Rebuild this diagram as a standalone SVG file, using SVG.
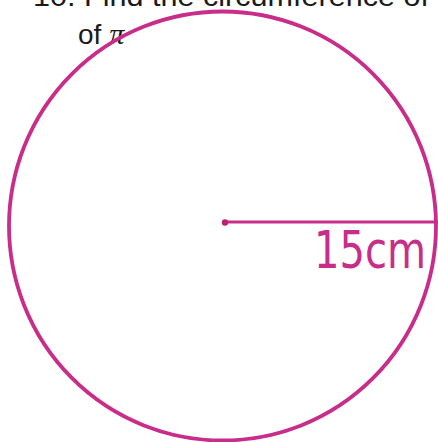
<svg xmlns="http://www.w3.org/2000/svg" width="438" height="442" viewBox="0 0 438 442">
<style>
.ink{fill:none;stroke:#c92d8a;stroke-linecap:round}
.q{font-family:"Liberation Sans","DejaVu Sans",sans-serif;font-size:28px;fill:#1a1a1a}
.hand{font-family:"DejaVu Sans","Liberation Sans",sans-serif;font-size:52px;fill:#c92d8a}
</style>
<rect width="438" height="442" fill="#ffffff"/>
<g id="question">
<text class="q" x="33" y="6" textLength="430" lengthAdjust="spacingAndGlyphs">10. Find the circumference of th</text>
<text class="q" x="78" y="44">of <tspan font-family="Liberation Serif,serif" font-style="italic" font-size="30">π</tspan></text>
</g>
<g id="circle">
<ellipse class="ink" cx="222.5" cy="226" rx="213.5" ry="214.5" stroke-width="3.8"/>
</g>
<g id="connectors">
<line class="ink" x1="225" y1="222" x2="438" y2="222" stroke-width="3"/>
<circle cx="225" cy="222.5" r="3.2" fill="#b8246f"/>
</g>
<g id="label">
<text class="hand" x="314" y="268" textLength="112" lengthAdjust="spacingAndGlyphs">15cm</text>
</g>
</svg>
